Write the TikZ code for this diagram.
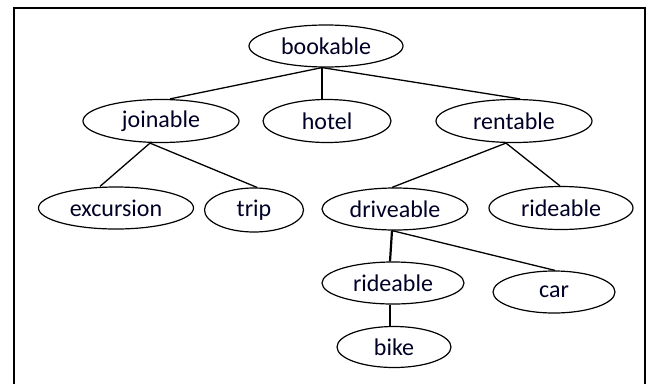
\documentclass[tikz,border=0pt]{standalone}
\usepackage{fontspec}
\setmainfont{Carlito}
\usetikzlibrary{shapes.geometric}
\begin{document}
\begin{tikzpicture}[x=1pt,y=-1pt,
  el/.style={draw, ellipse, line width=1.2pt, inner sep=0pt, font=\fontsize{24}{26}\selectfont, text=black!85!blue},
  edge/.style={line width=1.3pt},
  thickedge/.style={line width=2.2pt}]
\useasboundingbox (0,0) rectangle (652,383);
\draw[line width=2.2pt] (14,400) -- (14,8) -- (645,8) -- (645,400);
\node[el, minimum width=154, minimum height=42] (bookable) at (326,46) {bookable};
\node[el, minimum width=156, minimum height=43] (joinable) at (161,121) {joinable};
\node[el, minimum width=128, minimum height=43] (hotel) at (327,121) {hotel};
\node[el, minimum width=156, minimum height=43] (rentable) at (514,121) {rentable};
\node[el, minimum width=155, minimum height=42] (excursion) at (116,208) {excursion};
\node[el, minimum width=99, minimum height=44] (trip) at (254,210) {trip};
\node[el, minimum width=146, minimum height=42] (driveable) at (395,209) {driveable};
\node[el, minimum width=144, minimum height=43] (rideableA) at (561,208) {rideable};
\node[el, minimum width=142, minimum height=42] (rideableB) at (393,283) {rideable};
\node[el, minimum width=122, minimum height=42] (car) at (554,292) {car};
\node[el, minimum width=114, minimum height=41] (bike) at (394,347) {bike};
\draw[edge] ([xshift=-4pt]bookable.south) -- ([xshift=9pt]joinable.north);
\draw[edge] ([xshift=-4pt]bookable.south) -- ([xshift=-5pt]hotel.north);
\draw[edge] ([xshift=-4pt]bookable.south) -- ([xshift=6pt]rentable.north);
\draw[edge] ([xshift=-11pt]joinable.south) -- ([xshift=-16pt]excursion.north);
\draw[edge] ([xshift=-11pt]joinable.south) -- ([xshift=3pt]trip.north);
\draw[edge] ([xshift=-8pt]rentable.south) -- ([xshift=-3pt]driveable.north);
\draw[edge] ([xshift=-8pt]rentable.south) -- ([xshift=-1pt]rideableA.north);
\draw[thickedge] ([xshift=-3pt]driveable.south) -- ([xshift=-3pt]rideableB.north);
\draw[edge] ([xshift=-3pt]driveable.south) -- ([xshift=1pt]car.north);
\draw[thickedge] ([xshift=-3pt]rideableB.south) -- ([xshift=-4pt]bike.north);
\end{tikzpicture}
\end{document}
